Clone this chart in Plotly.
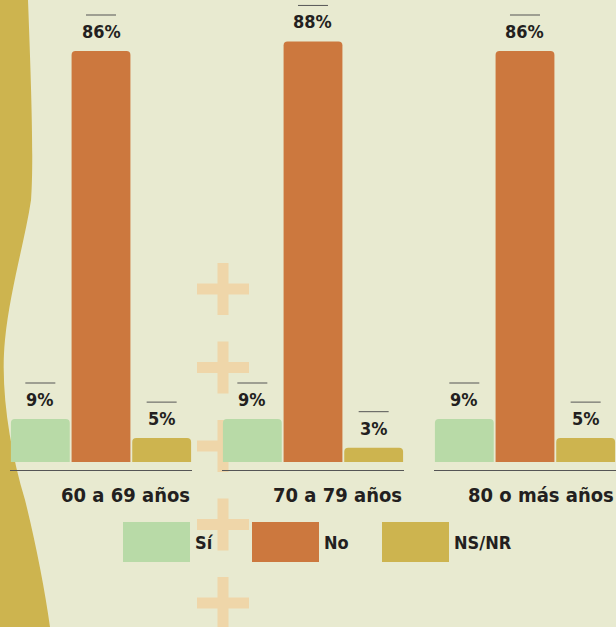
from plotly.subplots import make_subplots
import plotly.graph_objects as go

groups = ['60 a 69 años', '70 a 79 años', '80 o más años']
series = ['Sí', 'No', 'NS/NR']
si = [9, 9, 9]
no = [86, 88, 86]
nsnr = [5, 3, 5]
colors = ['#b8daa7', '#cc783e', '#cdb44f']

FONT = 'Liberation Sans Narrow, DejaVu Sans Condensed, Arial Narrow, sans-serif'
INK = '#231f20'
W, H = 616, 627
L, B = 10, 157
PW, PH = W - L, H - B


def px(x):
    return (x - L) / PW


def py(y):
    return (PH - y) / PH


fig = make_subplots(rows=1, cols=3, horizontal_spacing=0.0495)

values = [si, no, nsnr]
for g in range(len(groups)):
    for s in range(len(series)):
        v = values[s][g]
        fig.add_trace(
            go.Bar(
                x=[s],
                y=[v],
                width=0.97,
                marker=dict(color=colors[s], line=dict(width=0)),
                name=series[s],
                showlegend=False,
                hoverinfo='skip'),
            row=1,
            col=g + 1)
        xr = 'x' if g == 0 else f'x{g + 1}'
        yr = 'y' if g == 0 else f'y{g + 1}'
        fig.add_annotation(
            x=s, y=v, xref=xr, yref=yr,
            text=f'<b>{v}%</b>', showarrow=False,
            yanchor='bottom', yshift=7,
            font=dict(family=FONT, size=18, color=INK))
        fig.add_shape(
            type='line', xref=xr, yref=yr,
            xsizemode='pixel', xanchor=s, x0=-15, x1=15,
            ysizemode='pixel', yanchor=v, y0=36, y1=36,
            line=dict(color='#555555', width=1))
    fig.add_annotation(
        x=1, y=0, xref=f'{xr} domain', yref=f'{yr} domain',
        text=f'<b>{groups[g]}</b>', showarrow=False,
        xanchor='right', yanchor='middle', yshift=-25,
        font=dict(family=FONT, size=20, color=INK))

fig.update_xaxes(range=[-0.5, 2.5], showgrid=False, zeroline=False,
                 showticklabels=False, ticks='', showline=True,
                 linecolor='#555555', linewidth=1)
fig.update_yaxes(range=[-1.67, 96.67], showgrid=False, zeroline=False,
                 showticklabels=False, ticks='', visible=False)

# wavy band on the left
wave = [(0, 0), (28, 0), (31, 80), (34, 160), (31, 200), (25, 240), (10, 290),
        (5, 340), (0, 390), (10, 450), (25, 500), (35, 540), (45, 590), (50, 627),
        (0, 627)]
p = [f'{px(x):.4f},{py(y):.4f}' for x, y in wave]
path = (f'M {p[0]} L {p[1]} C {p[2]} {p[3]} {p[4]} C {p[5]} {p[6]} {p[7]} '
        f'C {p[8]} {p[9]} {p[10]} C {p[11]} {p[12]} {p[13]} L {p[14]} Z')
fig.add_shape(type='path', path=path, xref='paper', yref='paper',
              fillcolor='#cdb44f', line=dict(width=0), layer='below')

# crosses in the background
for cy in [289, 367.5, 446, 524.5, 603]:
    cx = 223
    fig.add_shape(type='rect', xref='paper', yref='paper', layer='below',
                  x0=px(cx - 5.5), x1=px(cx + 5.5), y0=py(cy - 26), y1=py(cy + 26),
                  fillcolor='#efd6a9', line=dict(width=0))
    fig.add_shape(type='rect', xref='paper', yref='paper', layer='below',
                  x0=px(cx - 26), x1=px(cx + 26), y0=py(cy - 5.5), y1=py(cy + 5.5),
                  fillcolor='#efd6a9', line=dict(width=0))

# legend
for s, x0 in enumerate([123, 252, 382]):
    fig.add_shape(type='rect', xref='paper', yref='paper',
                  x0=px(x0), x1=px(x0 + 67), y0=py(522), y1=py(562),
                  fillcolor=colors[s], line=dict(width=0))
    fig.add_annotation(x=px(x0 + 70), y=py(542), xref='paper', yref='paper',
                       text=f'<b>{series[s]}</b>', showarrow=False,
                       xanchor='left', yanchor='middle',
                       font=dict(family=FONT, size=18, color=INK))

fig.update_layout(
    width=W, height=H, autosize=False,
    margin=dict(l=L, r=0, t=0, b=B, pad=0),
    paper_bgcolor='#e8ead0',
    plot_bgcolor='rgba(0,0,0,0)',
    barcornerradius=4,
    showlegend=False)

fig.write_html('out.html', config={'displayModeBar': False},
               post_script="document.body.style.margin='0';")
